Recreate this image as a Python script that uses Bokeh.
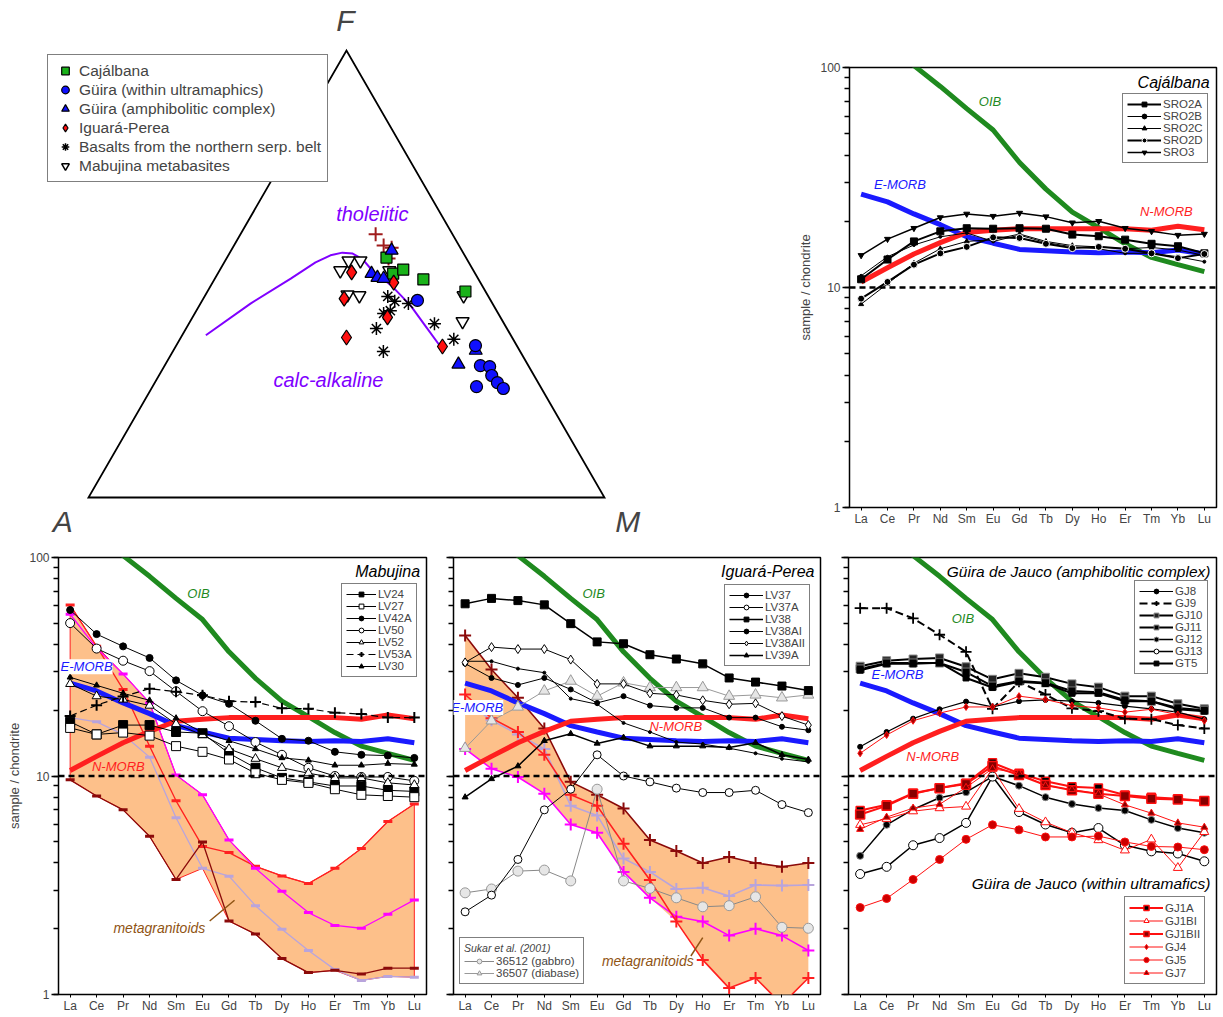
import math
from bokeh.plotting import figure
from bokeh.models import (Range1d, FixedTicker, NumeralTickFormatter, Span, Label,
                          Legend, LegendItem, CustomJSTickFormatter)
from bokeh.layouts import row, column
from bokeh.embed import file_html
from bokeh.resources import INLINE

FONT = "Liberation Sans"

# ---------------- data ----------------
REE = ["La", "Ce", "Pr", "Nd", "Sm", "Eu", "Gd", "Tb", "Dy", "Ho", "Er", "Tm", "Yb", "Lu"]
X = list(range(len(REE)))

OIB = [156, 131, 102, 82, 65, 52, 37, 28, 22, 18.7, 15.8, 13.7, 12.7, 11.8]
EMORB = [26.6, 24.5, 21.6, 19.3, 17.0, 15.9, 14.9, 14.7, 14.5, 14.4, 14.5, 14.4, 14.8, 14.2]
NMORB = [10.6, 12.3, 14.2, 16.0, 17.8, 18.2, 18.5, 18.5, 18.5, 18.5, 18.5, 18.2, 19.0, 18.3]

# Cajalbana
SRO2A = [10.9, 13.4, 16.2, 18.0, 18.6, 18.5, 18.6, 18.5, 17.4, 17.1, 16.5, 15.8, 15.4, 14.3]
SRO2B = [11.3, 13.8, 15.6, 17.0, 17.7, 16.2, 17.3, 16.0, 15.3, 15.0, 14.3, 14.3, 13.8, 13.1]
SRO2C = [8.4, 10.4, 12.9, 15.0, 16.2, 16.5, 17.5, 16.2, 15.5, 15.3, 15.0, 15.2, 14.8, 14.0]
SRO2D = [8.9, 10.6, 12.7, 14.3, 15.3, 16.9, 16.8, 15.8, 15.1, 15.3, 15.0, 14.3, 13.6, 14.2]
SRO3 = [14.0, 16.6, 18.6, 20.8, 21.6, 21.1, 21.8, 21.0, 19.7, 20.0, 18.6, 18.0, 17.3, 17.5]

# Mabujina
LV24 = [17.7, 15.5, 17.1, 17.1, 15.9, 15.7, 12.7, 10.9, 9.8, 9.4, 9.0, 9.0, 8.6, 8.5]
LV27 = [16.6, 15.5, 15.8, 15.3, 13.7, 12.9, 11.9, 10.3, 9.6, 9.3, 8.7, 8.2, 8.1, 8.0]
LV42A = [57.5, 44.6, 39.2, 34.7, 27.4, 23.4, 21.4, 17.9, 14.8, 14.5, 12.9, 12.5, 12.4, 12.1]
LV50 = [50.1, 38.3, 33.7, 30.2, 24.4, 19.8, 16.9, 14.3, 12.5, 10.9, 10.0, 9.9, 9.9, 9.5]
LV52 = [26.4, 23.2, 22.4, 21.0, 17.3, 15.4, 13.3, 12.0, 10.9, 10.3, 9.8, 9.8, 9.3, 9.1]
LV53A = [18.8, 21.1, 23.1, 25.1, 24.3, 23.4, 22.0, 21.8, 20.4, 20.3, 19.5, 19.2, 18.5, 18.5]
LV30 = [28.3, 26.0, 23.9, 22.2, 18.4, 15.8, 14.5, 13.3, 12.1, 11.8, 11.2, 11.2, 11.4, 11.3]
MG_RED = [60.6, 39.2, 24.9, 13.7, 7.7, 4.76, 4.46, 3.86, 3.49, 3.22, 3.78, 4.66, 6.19, 7.45]
MG_MAG = [55.0, 38.5, 29.3, 21.6, 10.1, 8.2, 5.1, 3.78, 2.97, 2.37, 2.07, 2.01, 2.33, 2.71]
MG_DRED = [9.6, 8.1, 7.0, 5.3, 3.36, 4.99, 2.17, 1.89, 1.46, 1.26, 1.29, 1.24, 1.32, 1.32]
MG_LAV = [18.5, 17.7, 15.5, 12.2, 6.44, 3.78, 3.48, 2.55, 1.99, 1.59, 1.30, 1.16, 1.21, 1.20]

# Iguara-Perea
LV37 = [32.7, 28.1, 26.1, 28.1, 24.9, 21.6, 23.2, 21.0, 20.5, 20.5, 18.5, 18.5, 16.8, 16.2]
LV37A = [2.39, 2.85, 4.15, 7.0, 8.7, 12.5, 10.0, 9.4, 8.8, 8.4, 8.4, 8.6, 7.4, 6.8]
LV38 = [61.4, 65.0, 63.5, 60.7, 49.8, 41.1, 40.3, 35.9, 34.3, 32.6, 28.1, 26.9, 25.8, 24.6]
LV38AI = [33.5, 33.5, 31.0, 29.7, 22.6, 21.3, 17.5, 15.9, 14.3, 14.0, 13.4, 12.7, 12.0, 11.6]
LV38AII = [33.1, 38.9, 38.1, 38.1, 34.1, 26.4, 26.4, 23.9, 23.5, 22.2, 21.3, 21.5, 18.8, 17.1]
LV39A = [8.0, 9.7, 11.1, 14.5, 15.6, 14.1, 15.0, 13.7, 13.7, 13.7, 13.5, 14.2, 12.5, 11.9]
S36512 = [2.92, 3.04, 3.67, 3.71, 3.31, 8.7, 3.31, 3.06, 2.77, 2.52, 2.55, 2.80, 2.03, 2.01]
S36507 = [13.4, 17.9, 20.7, 24.5, 27.2, 23.2, 26.7, 25.4, 25.4, 25.4, 23.2, 23.5, 22.8, 23.5]
IG_DRED = [44.0, 30.7, 22.8, 16.5, 9.4, 8.2, 7.1, 5.1, 4.54, 4.0, 4.26, 4.0, 3.84, 4.0]
IG_RED = [23.6, 18.4, 15.9, 12.5, 8.2, 7.3, 4.9, 3.34, 2.16, 1.44, 1.07, 1.19, 0.90, 1.19]
IG_MAG = [13.3, 10.8, 9.9, 8.3, 6.0, 5.5, 3.64, 2.77, 2.27, 2.16, 1.86, 2.0, 1.86, 1.59]
IG_LAV = [22.0, 18.0, 15.5, 13.3, 7.3, 6.6, 4.19, 3.64, 3.04, 3.08, 2.82, 3.17, 3.15, 3.17]

# Guira de Jauco
GJ8 = [13.6, 15.9, 18.3, 20.2, 21.9, 20.7, 22.0, 22.3, 22.0, 21.6, 20.9, 20.3, 19.6, 18.2]
GJ9 = [58.6, 58.6, 52.7, 44.3, 37.0, 20.3, 27.0, 23.6, 20.4, 19.8, 18.3, 18.2, 17.1, 16.5]
GJ10 = [31.8, 33.7, 34.3, 34.7, 31.6, 27.7, 29.5, 28.3, 26.4, 25.5, 23.2, 23.2, 21.4, 20.3]
GJ11 = [30.9, 32.9, 32.9, 32.9, 29.9, 25.8, 27.2, 26.7, 24.5, 24.2, 22.3, 22.0, 20.5, 20.0]
GJ12 = [4.31, 5.98, 7.03, 7.95, 8.43, 9.94, 9.03, 8.0, 7.45, 7.14, 6.95, 6.3, 5.78, 5.5]
GJ13 = [3.56, 3.84, 4.82, 5.2, 6.1, 9.94, 6.84, 6.0, 5.5, 5.78, 4.82, 4.52, 4.42, 4.07]
GT5 = [30.5, 32.6, 32.6, 33.0, 28.1, 25.4, 27.0, 26.5, 23.9, 23.9, 22.0, 22.0, 20.2, 19.8]
GJ1A = [6.95, 7.38, 8.34, 8.81, 9.26, 11.5, 10.3, 9.46, 8.93, 8.81, 8.19, 8.0, 7.86, 7.68]
GJ1BI = [5.98, 6.37, 6.9, 7.13, 7.25, 10.8, 7.08, 6.15, 5.5, 5.09, 4.57, 5.13, 3.8, 5.55]
GJ1BII = [6.67, 7.3, 8.3, 8.8, 9.2, 11.1, 10.1, 9.1, 8.6, 8.3, 8.1, 7.86, 7.8, 7.68]
GJ4 = [12.7, 15.4, 17.9, 19.4, 20.7, 20.7, 23.2, 22.4, 21.0, 20.5, 19.6, 20.2, 19.1, 17.9]
GJ5 = [2.50, 2.75, 3.36, 4.15, 5.13, 5.98, 5.67, 5.26, 5.26, 5.31, 4.99, 4.76, 4.73, 4.6]
GJ7 = [5.7, 6.48, 7.13, 7.42, 8.87, 10.8, 10.3, 9.03, 8.67, 8.28, 7.38, 6.76, 6.1, 5.83]

# AFM ternary (F %, M %; A = 100 - F - M)
CAJ_F = [53.7, 50.1, 51.0, 48.8, 46.1]
CAJ_M = [30.9, 34.0, 35.5, 40.5, 50.0]
GUU_F = [44.1, 34.0, 29.5, 29.3, 27.3, 25.7, 24.4, 24.8]
GUU_M = [41.7, 58.0, 61.2, 63.1, 64.5, 66.4, 68.2, 62.8]
GUA_F = [55.3, 50.1, 49.2, 49.0, 32.9, 29.8]
GUA_M = [31.1, 29.8, 31.4, 32.7, 58.6, 56.8]
IGU_F = [50.4, 48.1, 44.5, 40.3, 35.8, 33.8]
IGU_M = [25.8, 35.1, 27.3, 37.8, 32.1, 51.7]
BAS_F = [45.0, 43.9, 43.4, 41.2, 41.8, 37.8, 38.9, 35.4, 32.7]
BAS_M = [35.5, 37.4, 40.3, 36.6, 37.6, 36.9, 47.6, 53.1, 40.8]
MAB_F = [53.0, 53.0, 50.8, 50.8, 45.4, 45.2, 45.2, 39.4]
MAB_M = [23.9, 26.2, 23.4, 32.9, 27.5, 29.9, 50.1, 52.8]
GRA_F = [58.9, 56.4, 55.9, 53.5]
GRA_M = [26.2, 29.0, 30.8, 31.4]
BND_F = [36.3, 43.4, 49.0, 52.6, 54.2, 54.8, 54.6, 53.3, 50.8, 47.2, 43.0, 38.3, 33.8]
BND_M = [4.6, 9.7, 14.7, 17.7, 19.8, 21.8, 23.9, 26.5, 29.6, 35.3, 40.9, 46.2, 51.3]

# ---------------- colours ----------------
C_OIB = "#1f8a1f"
C_EM = "#1a1aff"
C_NM = "#ff1f1f"
C_FILL = "#fdc08a"
C_RED = "#ff2020"
C_MAG = "#ff00ff"
C_DRED = "#8b0a0a"
C_LAV = "#b8a4dc"
C_BROWN = "#8f5414"


def ree_fig(width, height, bl, br, bt, bb, show_y):
    p = figure(width=width, height=height, y_axis_type="log",
               x_range=Range1d(-0.44, 13.46), y_range=Range1d(1, 100),
               output_backend="svg", toolbar_location=None,
               min_border_left=bl, min_border_right=br,
               min_border_top=bt, min_border_bottom=bb)
    p.xgrid.visible = False
    p.ygrid.visible = False
    p.outline_line_color = "black"
    p.outline_line_width = 1.5
    xa = p.xaxis[0]
    xa.ticker = FixedTicker(ticks=X)
    xa.major_label_overrides = {i: n for i, n in enumerate(REE)}
    xa.axis_line_color = None
    xa.major_tick_in = 0
    xa.major_tick_out = 3
    xa.minor_tick_line_color = None
    xa.major_label_text_font = FONT
    xa.major_label_text_font_size = "12px"
    xa.major_label_standoff = 1
    ya = p.yaxis[0]
    ya.axis_line_color = None
    ya.major_tick_in = 0
    ya.major_tick_out = 7
    ya.minor_tick_in = 0
    ya.minor_tick_out = 5
    ya.major_tick_line_width = 1.5
    ya.minor_tick_line_width = 1.5
    ya.major_label_text_font = FONT
    ya.major_label_text_font_size = "12px"
    ya.major_label_standoff = 2
    if show_y:
        ya.formatter = NumeralTickFormatter(format="0")
        ya.axis_label = "sample / chondrite"
        ya.axis_label_text_font = FONT
        ya.axis_label_text_font_style = "normal"
        ya.axis_label_text_font_size = "13px"
        ya.axis_label_standoff = 4
    else:
        ya.formatter = CustomJSTickFormatter(code="return ''")
        ya.major_label_standoff = 0
    return p


def add_refs(p, oib_xy, em_xy, nm_xy, em_bg=False):
    p.line(X, OIB, line_color=C_OIB, line_width=5)
    p.line(X, EMORB, line_color=C_EM, line_width=5)
    p.line(X, NMORB, line_color=C_NM, line_width=5)
    p.add_layout(Span(location=10, dimension="width", line_color="black",
                      line_width=2.5, line_dash="6 4"))
    for (x, y), txt, col, bg in [(oib_xy, "OIB", C_OIB, False),
                                 (em_xy, "E-MORB", C_EM, em_bg),
                                 (nm_xy, "N-MORB", C_NM, False)]:
        p.add_layout(Label(x=x, y=y, text=txt, text_color=col, text_font=FONT,
                           text_font_style="italic", text_font_size="13px",
                           text_align="center", text_baseline="middle",
                           background_fill_color="white" if bg else None,
                           background_fill_alpha=1.0 if bg else 0.0))


def title(p, x, y, txt, size="16px"):
    p.add_layout(Label(x=x, y=y, text=txt, text_font=FONT, text_font_style="italic",
                       text_font_size=size, text_align="right", text_baseline="middle",
                       text_color="black"))


def series(p, y, color="black", lw=1.0, dash="solid", marker="circle", size=6,
           fill="black", mline=None, mlw=1.0):
    r1 = p.line(X, y, line_color=color, line_width=lw, line_dash=dash)
    r2 = p.scatter(X, y, marker=marker, size=size, fill_color=fill,
                   line_color=mline if mline else color, line_width=mlw)
    return [r1, r2]


def legend(p, items, loc, glyph_w=32, lh=12, title_txt=None):
    lg = Legend(items=[LegendItem(label=l, renderers=r) for l, r in items],
                location=loc, label_text_font=FONT, label_text_font_size="11.5px",
                label_height=lh, glyph_height=lh, glyph_width=glyph_w,
                label_standoff=2, spacing=0, padding=4, margin=0,
                border_line_color="black", border_line_width=1.5,
                background_fill_color="white", background_fill_alpha=1.0)
    if title_txt:
        lg.title = title_txt
        lg.title_text_font = FONT
        lg.title_text_font_style = "italic"
        lg.title_text_font_size = "10.5px"
        lg.title_standoff = 1
    p.add_layout(lg)


def granitoid_fill(p, lines, outline):
    upper = [max(v) for v in zip(*lines)]
    lower = [min(v) for v in zip(*lines)]
    p.patch(X + X[::-1], upper + lower[::-1], fill_color=C_FILL,
            line_color=outline, line_width=1 if outline else 0)


# ---------------- ternary AFM ----------------
S3 = math.sqrt(3) / 2


def proj(F, M):
    return [m + f / 2 for f, m in zip(F, M)], [f * S3 for f in F]


t = figure(width=790, height=548, x_range=Range1d(-17.05, 136.05),
           y_range=Range1d(-9.88, 96.32), output_backend="svg", toolbar_location=None,
           x_axis_location=None, y_axis_location=None, min_border=0)
t.frame_align = False
t.grid.visible = False
t.outline_line_color = None

tx, ty = proj([0, 0, 100], [0, 100, 0])
t.patch(tx, ty, fill_color=None, line_color="black", line_width=1.8, line_join="miter")
bx, by = proj(BND_F, BND_M)
t.line(bx, by, line_color="#8000ff", line_width=2)

gx, gy = proj(GRA_F, GRA_M)
t.scatter(gx, gy, marker="cross", size=14, line_color="#a01c1c", line_width=2)
r_mab = t.scatter(*proj(MAB_F, MAB_M), marker="inverted_triangle", size=13,
                  fill_color="white", line_color="black", line_width=1.5)
r_bas = t.scatter(*proj(BAS_F, BAS_M), marker="asterisk", size=13,
                  line_color="black", line_width=1.5)
r_caj = t.scatter(*proj(CAJ_F, CAJ_M), marker="square", size=11,
                  fill_color="#19b219", line_color="black", line_width=1.2)
r_igu = t.scatter(*proj(IGU_F, IGU_M), marker="diamond", size=15,
                  fill_color="#ff1010", line_color="black", line_width=1.2)
r_gua = t.scatter(*proj(GUA_F, GUA_M), marker="triangle", size=13,
                  fill_color="#1010ff", line_color="black", line_width=1.2)
r_guu = t.scatter(*proj(GUU_F, GUU_M), marker="circle", size=12,
                  fill_color="#1010ff", line_color="black", line_width=1.2)

for txt, x, y in [("F", 49.8, 92.4), ("A", -5.0, -4.6), ("M", 104.5, -4.6)]:
    t.add_layout(Label(x=x, y=y, text=txt, text_font=FONT, text_font_style="italic",
                       text_font_size="30px", text_align="center", text_baseline="middle"))
t.add_layout(Label(x=55.0, y=55.0, text="tholeiitic", text_font=FONT,
                   text_font_style="italic", text_font_size="20px", text_color="#8000ff",
                   text_align="center", text_baseline="middle"))
t.add_layout(Label(x=46.5, y=22.7, text="calc-alkaline", text_font=FONT,
                   text_font_style="italic", text_font_size="20px", text_color="#8000ff",
                   text_align="center", text_baseline="middle"))

tl = Legend(items=[LegendItem(label="Cajálbana", renderers=[r_caj]),
                   LegendItem(label="Güira (within ultramaphics)", renderers=[r_guu]),
                   LegendItem(label="Güira (amphibolitic complex)", renderers=[r_gua]),
                   LegendItem(label="Iguará-Perea", renderers=[r_igu]),
                   LegendItem(label="Basalts from the northern serp. belt", renderers=[r_bas]),
                   LegendItem(label="Mabujina metabasites", renderers=[r_mab])],
            location=(47, 366), label_text_font=FONT, label_text_font_size="15.5px",
            label_height=19, glyph_height=19, glyph_width=22, label_standoff=3,
            spacing=0, padding=6, margin=0, border_line_color="black",
            border_line_width=1.5, background_fill_color="white",
            background_fill_alpha=1.0)
t.add_layout(tl)

# ---------------- Cajalbana ----------------
caj = ree_fig(429, 548, 59, 3, 67, 41, True)
add_refs(caj, (4.88, 70), (1.47, 29.3), (11.56, 22.1))
items = [
    ("SRO2A", series(caj, SRO2A, lw=2, marker="square", size=7)),
    ("SRO2B", series(caj, SRO2B, lw=1, marker="circle", size=3)),
    ("SRO2C", series(caj, SRO2C, lw=1, marker="triangle", size=5)),
    ("SRO2D", series(caj, SRO2D, lw=2, marker="circle", size=7, mline="white")),
    ("SRO3", series(caj, SRO3, lw=1.5, marker="inverted_triangle", size=6)),
]
legend(caj, items, (273, 344), glyph_w=34)
title(caj, 13.2, 85.5, "Cajálbana")

# ---------------- Mabujina ----------------
mab = ree_fig(440, 467, 58, 14, 9, 18, True)
granitoid_fill(mab, [MG_RED, MG_MAG, MG_DRED, MG_LAV], C_RED)
for ys, col in [(MG_LAV, C_LAV), (MG_RED, C_RED), (MG_MAG, C_MAG), (MG_DRED, C_DRED)]:
    series(mab, ys, color=col, lw=1.3, marker="dash", size=9, mlw=3)
add_refs(mab, (4.85, 68.6), (0.62, 31.6), (1.82, 11.0), em_bg=True)
items = [
    ("LV24", series(mab, LV24, marker="square", size=9)),
    ("LV27", series(mab, LV27, marker="square", size=9, fill="white")),
    ("LV42A", series(mab, LV42A, marker="circle", size=7)),
    ("LV50", series(mab, LV50, marker="circle", size=9, fill="white")),
    ("LV52", series(mab, LV52, marker="triangle", size=9, fill="white")),
    ("LV53A", series(mab, LV53A, lw=1.2, dash="7 4", marker="cross", size=11, mlw=2)),
    ("LV30", series(mab, LV30, marker="triangle", size=6)),
]
legend(mab, items, (283, 317), glyph_w=30)
title(mab, 13.22, 86.4, "Mabujina")
mab.add_layout(Label(x=3.37, y=2.02, text="metagranitoids", text_font=FONT,
                     text_font_style="italic", text_font_size="14px", text_color=C_BROWN,
                     text_align="center", text_baseline="middle"))
mab.line([5.27, 6.21], [2.17, 2.70], line_color=C_BROWN, line_width=1.5)

# ---------------- Iguara-Perea ----------------
igu = ree_fig(395, 467, 13, 15, 9, 18, False)
granitoid_fill(igu, [IG_DRED, IG_RED, IG_MAG, IG_LAV], None)
for ys, col in [(IG_LAV, C_LAV), (IG_MAG, C_MAG), (IG_RED, C_RED), (IG_DRED, C_DRED)]:
    series(igu, ys, color=col, lw=1.6, marker="cross", size=12, mlw=2)
add_refs(igu, (4.87, 68.6), (0.46, 20.6), (7.98, 16.9), em_bg=True)
r_s1 = series(igu, S36512, color="#888888", marker="circle", size=10, fill="#e6e6e6",
              mline="#999999")
r_s2 = series(igu, S36507, color="#999999", marker="triangle", size=11, fill="#e6e6e6",
              mline="#999999")
items = [
    ("LV37", series(igu, LV37, marker="circle", size=5)),
    ("LV37A", series(igu, LV37A, marker="circle", size=8, fill="white")),
    ("LV38", series(igu, LV38, lw=1.5, marker="square", size=8)),
    ("LV38AI", series(igu, LV38AI, marker="circle", size=3)),
    ("LV38AII", series(igu, LV38AII, marker="diamond", size=9, fill="white")),
    ("LV39A", series(igu, LV39A, lw=1.5, marker="triangle", size=6)),
]
legend(igu, items, (271, 328), glyph_w=34)
legend(igu, [("36512 (gabbro)", r_s1), ("36507 (diabase)", r_s2)], (6, 10),
       glyph_w=30, title_txt="Sukar et al. (2001)")
title(igu, 13.23, 86.4, "Iguará-Perea")
igu.add_layout(Label(x=6.92, y=1.43, text="metagranitoids", text_font=FONT,
                     text_font_style="italic", text_font_size="14px", text_color=C_BROWN,
                     text_align="center", text_baseline="middle"))
igu.line([8.55, 9.0], [1.50, 1.82], line_color=C_BROWN, line_width=1.5)

# ---------------- Guira de Jauco ----------------
gui = ree_fig(384, 467, 13, 3, 9, 18, False)
add_refs(gui, (3.88, 52.8), (1.41, 29.1), (2.74, 12.3))
items1 = [
    ("GJ8", series(gui, GJ8, lw=1.2, marker="circle", size=5)),
    ("GJ9", series(gui, GJ9, lw=2, dash="8 4", marker="cross", size=11, mlw=1.8)),
    ("GJ10", series(gui, GJ10, lw=2, marker="square", size=8, fill="#222222",
                    mline="#888888")),
    ("GJ11", series(gui, GJ11, lw=2, marker="square", size=8, mline="#777777")),
    ("GJ12", series(gui, GJ12, lw=1.5, marker="circle", size=7, mline="#888888")),
    ("GJ13", series(gui, GJ13, lw=1.5, marker="circle", size=9, fill="white")),
    ("GT5", series(gui, GT5, lw=2, marker="square", size=6)),
]
items2 = [
    ("GJ1A", series(gui, GJ1A, color="#ff1010", lw=2, marker="square", size=8,
                    fill="black", mline="#ff1010", mlw=1.5)),
    ("GJ1BI", series(gui, GJ1BI, color="#ff1010", lw=1, marker="triangle", size=9,
                     fill="white", mline="#ff1010")),
    ("GJ1BII", series(gui, GJ1BII, color="#ff1010", lw=2, marker="square", size=9,
                      fill="#880000", mline="#ff1010", mlw=1.5)),
    ("GJ4", series(gui, GJ4, color="#ff1010", lw=1, marker="diamond", size=7,
                   fill="#aa0000", mline="#ff1010")),
    ("GJ5", series(gui, GJ5, color="#ff1010", lw=1, marker="circle", size=8,
                   fill="#cc0000", mline="#ff1010")),
    ("GJ7", series(gui, GJ7, color="#ff1010", lw=1, marker="triangle", size=7,
                   fill="#880000", mline="#ff1010")),
]
legend(gui, items1, (286, 320), glyph_w=34)
legend(gui, items2, (276, 10), glyph_w=34, lh=13)
title(gui, 13.23, 86.4, "Güira de Jauco (amphibolitic complex)", size="15.5px")
title(gui, 13.23, 3.23, "Güira de Jauco (within ultramafics)", size="15.5px")

layout = column(row(t, caj), row(mab, igu, gui))
open("out.html", "w").write(file_html(layout, INLINE))
